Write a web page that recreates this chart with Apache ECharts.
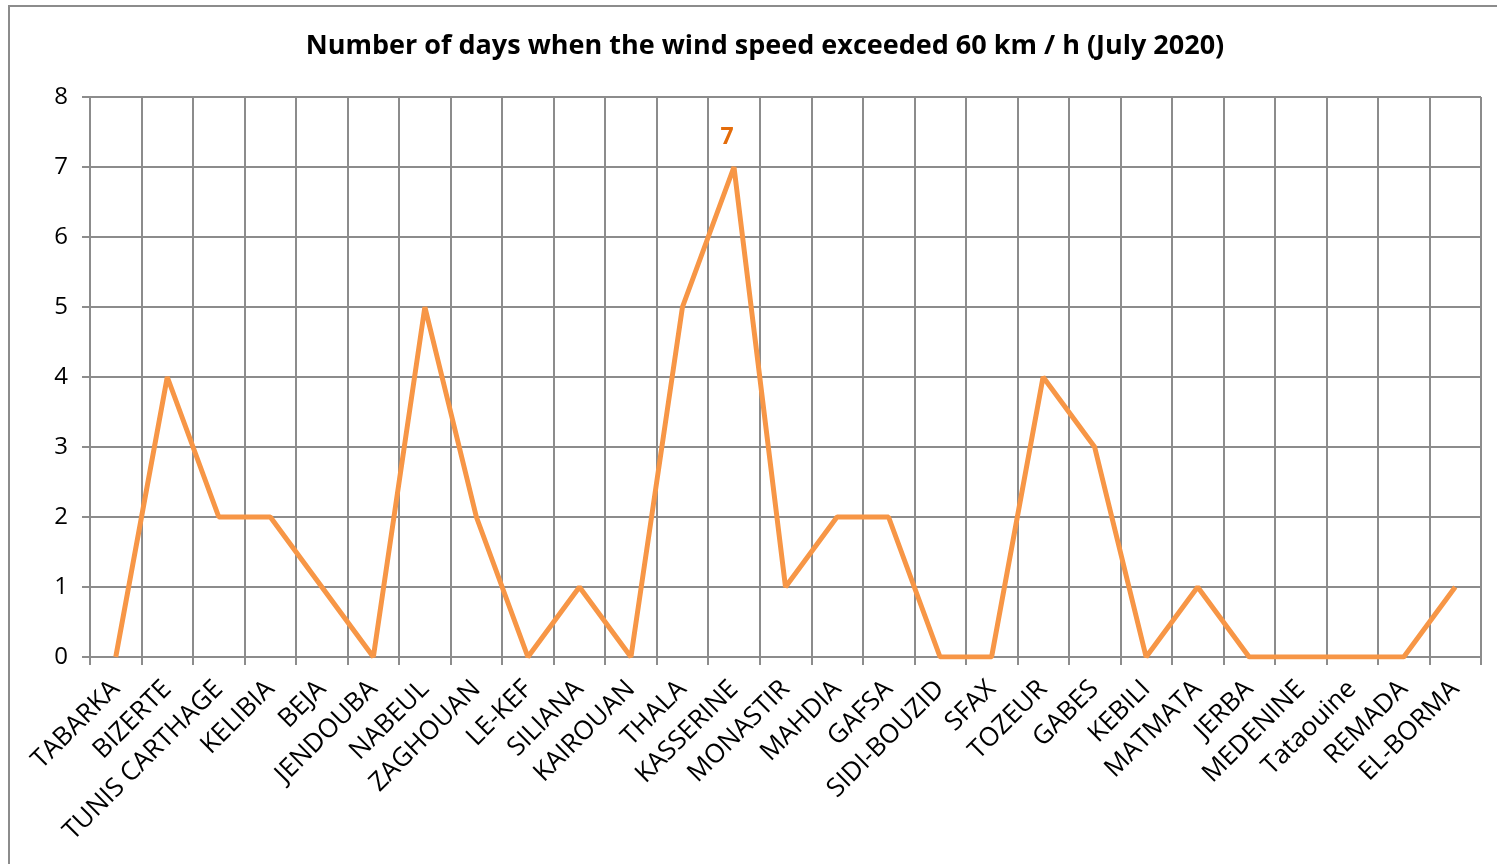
<!DOCTYPE html>
<html>
<head>
<meta charset="utf-8">
<script src="https://cdn.jsdelivr.net/npm/echarts@6/dist/echarts.min.js"></script>
<style>
  html, body { margin: 0; padding: 0; background: #fff; overflow: hidden; }
  #frame { position: absolute; left: 8px; top: 5px; width: 1600px; height: 1000px; border: 2px solid #8c8c8c; box-sizing: border-box; }
  #chart { position: absolute; left: 0; top: 0; width: 1497px; height: 864px; }
</style>
</head>
<body>
<div id="frame"></div>
<div id="chart"></div>
<script>
const stations = ["TABARKA", "BIZERTE", "TUNIS CARTHAGE", "KELIBIA", "BEJA", "JENDOUBA", "NABEUL",
  "ZAGHOUAN", "LE-KEF", "SILIANA", "KAIROUAN", "THALA", "KASSERINE", "MONASTIR", "MAHDIA",
  "GAFSA", "SIDI-BOUZID", "SFAX", "TOZEUR", "GABES", "KEBILI", "MATMATA", "JERBA", "MEDENINE",
  "Tataouine", "REMADA", "EL-BORMA"];
const windDays = [0, 4, 2, 2, 1, 0, 5, 2, 0, 1, 0, 5, 7, 1, 2, 2, 0, 0, 4, 3, 0, 1, 0, 0, 0, 0, 1];
const labelledStation = "KASSERINE";

const font = "'Open Sans', 'Liberation Sans', sans-serif";

const chart = echarts.init(document.getElementById("chart"));
chart.setOption({
  animation: false,
  title: {
    text: "Number of days when the wind speed exceeded 60 km / h (July 2020)",
    left: 760,
    top: 28,
    textAlign: "center",
    textStyle: { fontFamily: font, fontSize: 27, fontWeight: "bold", color: "#000" }
  },
  grid: { left: 90, right: 16, top: 97, bottom: 207 },
  xAxis: {
    type: "category",
    data: stations,
    boundaryGap: true,
    axisLine: { lineStyle: { color: "#8c8c8c", width: 2 } },
    axisTick: { show: true, length: 8, lineStyle: { color: "#8c8c8c", width: 2 } },
    splitLine: { show: true, lineStyle: { color: "#8c8c8c", width: 2 } },
    axisLabel: {
      interval: 0, rotate: 45, margin: 28,
      fontFamily: font, fontSize: 26, color: "#000"
    }
  },
  yAxis: {
    type: "value",
    min: 0, max: 8, interval: 1,
    axisLine: { show: true, lineStyle: { color: "#8c8c8c", width: 2 } },
    axisTick: { show: true, length: 8, lineStyle: { color: "#8c8c8c", width: 2 } },
    splitLine: { show: true, lineStyle: { color: "#8c8c8c", width: 2 } },
    axisLabel: { margin: 22, fontFamily: font, fontSize: 24, color: "#000" }
  },
  series: [{
    type: "line",
    data: windDays.map((v, i) => ({
      value: v,
      label: stations[i] === labelledStation ? {
        show: true, position: "top", distance: 18, offset: [-7, 0],
        fontFamily: font, fontSize: 23, fontWeight: "bold", color: "#E46C0A"
      } : { show: false }
    })),
    showSymbol: true,
    symbol: "circle",
    symbolSize: 0,
    lineStyle: { color: "#F79646", width: 5 },
    itemStyle: { color: "#F79646" }
  }]
});
window.addEventListener("resize", () => chart.resize());
</script>
</body>
</html>
